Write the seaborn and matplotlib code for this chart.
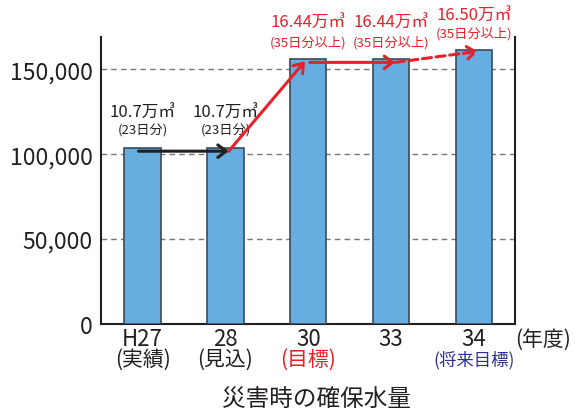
import matplotlib.pyplot as plt
import matplotlib.transforms as mtransforms
import seaborn as sns

# data
years = ["H27", "28", "30", "33", "34"]
notes = ["(実績)", "(見込)", "(目標)", "", "(将来目標)"]
note_colors = ["#231f20", "#231f20", "#e8202a", "#231f20", "#2e3192"]
storage = [103400, 103400, 156300, 156300, 161200]
amount_labels = ["10.7万㎥", "10.7万㎥", "16.44万㎥", "16.44万㎥", "16.50万㎥"]
day_labels = ["(23日分)", "(23日分)", "(35日分以上)", "(35日分以上)", "(35日分以上)"]
label_colors = ["#231f20", "#231f20", "#e8202a", "#e8202a", "#e8202a"]

sns.set_style("white")
plt.rcParams['font.family'] = ['Noto Sans CJK JP', 'DejaVu Sans']

fig = plt.figure(figsize=(5.75, 4.14), dpi=100)
ax = fig.add_axes([0.176, 0.215, 0.72, 0.693])

sns.barplot(x=years, y=storage, color="#66aee0", width=0.44,
            edgecolor="#3a4a5a", linewidth=1.2, saturation=1, ax=ax, zorder=3)

ax.set_xlim(-0.5, 4.5)
ax.set_ylim(0, 169000)
ax.set_yticks([0, 50000, 100000, 150000])
ax.set_yticklabels([f"{v:,}" for v in [0, 50000, 100000, 150000]], fontsize=16.5, color="#231f20")
for y in [50000, 100000, 150000]:
    ax.axhline(y, color="#777777", lw=1, ls=(0, (4, 3)), zorder=1)

# spines
for s in ["left", "right", "bottom"]:
    ax.spines[s].set_visible(True)
    ax.spines[s].set_color("#231f20")
    ax.spines[s].set_linewidth(1.5)
ax.spines["top"].set_visible(False)

# x ticks
ax.set_xticks(range(len(years)))
ax.set_xticklabels(years, fontsize=16, color="#231f20")
ax.set_xticks([0.5, 1.5, 2.5, 3.5], minor=True)
ax.tick_params(axis="x", which="major", length=0, pad=2)
ax.tick_params(axis="x", which="minor", direction="in", length=7, width=1.3, color="#231f20")
ax.tick_params(axis="y", length=0, pad=6)
ax.set_xlabel("")

trans = mtransforms.blended_transform_factory(ax.transData, ax.transAxes)
for i, (n, c) in enumerate(zip(notes, note_colors)):
    if n:
        ax.text(i, -0.123, n, transform=trans, ha="center", va="center",
                fontsize=12.5 if len(n) > 4 else 15, color=c)
ax.text(1.068, -0.05, "(年度)", transform=ax.transAxes, ha="center", va="center",
        fontsize=15, color="#231f20")
ax.text(0.52, -0.26, "災害時の確保水量", transform=ax.transAxes, ha="center", va="center",
        fontsize=17, color="#231f20")

# value labels above bars
for i in range(len(years)):
    if i < 2:
        y1, y2 = storage[i] + 21300, storage[i] + 10700
    elif i < 4:
        y1, y2 = 177500, 166000
    else:
        y1, y2 = 182000, 171500
    ax.text(i, y1, amount_labels[i], ha="center", va="center", fontsize=12,
            color=label_colors[i], clip_on=False)
    ax.text(i, y2, day_labels[i], ha="center", va="center", fontsize=9.5,
            color=label_colors[i], clip_on=False)

# arrows
head = dict(arrowstyle="->,head_length=0.6,head_width=0.45", lw=2.2, shrinkA=0, shrinkB=0)
ax.annotate("", xy=(1.04, storage[1] - 1600), xytext=(-0.05, storage[0] - 1600),
            arrowprops=dict(color="#231f20", **head), zorder=5)
ax.annotate("", xy=(1.96, storage[2] - 1600), xytext=(1.04, storage[1] - 1600),
            arrowprops=dict(color="#e8202a", **head), zorder=5)
ax.annotate("", xy=(3.05, storage[3] - 2200), xytext=(2.02, storage[2] - 2200),
            arrowprops=dict(color="#e8202a", **head), zorder=5)
ax.annotate("", xy=(4.05, storage[4] - 600), xytext=(3.05, storage[3] - 2200),
            arrowprops=dict(color="#e8202a", linestyle=(0, (3, 1.5)), **head), zorder=5)

fig.savefig("out.png", dpi=100)
